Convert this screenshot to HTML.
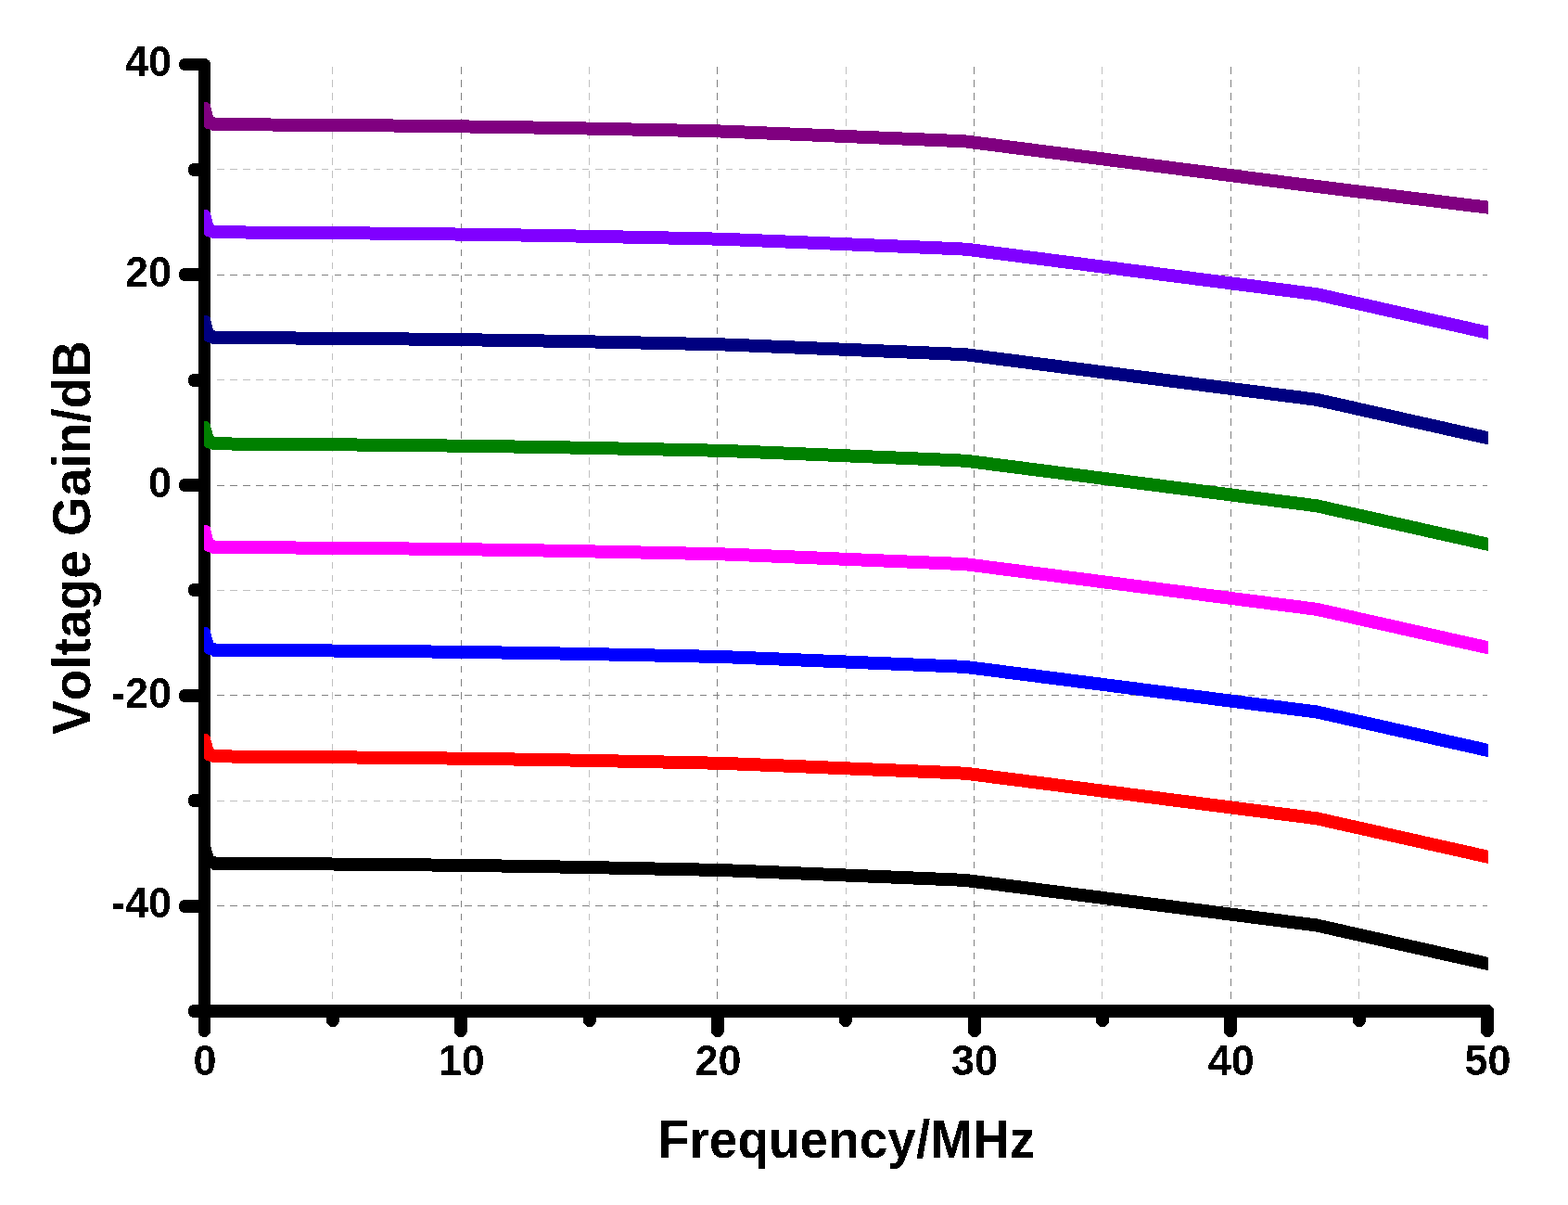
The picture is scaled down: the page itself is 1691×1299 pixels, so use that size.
<!DOCTYPE html>
<html lang="en"><head><meta charset="utf-8"><title>Voltage Gain vs Frequency</title>
<style>html,body{margin:0;padding:0;background:#fff}body{width:1691px;height:1299px;overflow:hidden}svg{display:block}text{font-family:"Liberation Sans",sans-serif;font-weight:bold;fill:#000;font-kerning:none;font-variant-ligatures:none}</style></head><body>
<svg width="1691" height="1299" viewBox="0 0 1691 1299">
<rect width="1691" height="1299" fill="#fff"/>
<defs><filter id="crisp" x="-5%" y="-20%" width="110%" height="140%" color-interpolation-filters="sRGB"><feComponentTransfer><feFuncA type="discrete" tableValues="0 1"/></feComponentTransfer></filter><clipPath id="plot"><rect x="220" y="60" width="1385" height="1030"/></clipPath></defs>
<g shape-rendering="crispEdges" fill="none" stroke-width="1">
<line x1="358.5" y1="72" x2="358.5" y2="1083" stroke="#c0c0c0" stroke-dasharray="7.5 6.543"/>
<line x1="497.5" y1="72" x2="497.5" y2="1083" stroke="#808080" stroke-dasharray="7.5 6.543"/>
<line x1="635.5" y1="72" x2="635.5" y2="1083" stroke="#c0c0c0" stroke-dasharray="7.5 6.543"/>
<line x1="773.5" y1="72" x2="773.5" y2="1083" stroke="#808080" stroke-dasharray="7.5 6.543"/>
<line x1="912.5" y1="72" x2="912.5" y2="1083" stroke="#c0c0c0" stroke-dasharray="7.5 6.543"/>
<line x1="1050.5" y1="72" x2="1050.5" y2="1083" stroke="#808080" stroke-dasharray="7.5 6.543"/>
<line x1="1188.5" y1="72" x2="1188.5" y2="1083" stroke="#c0c0c0" stroke-dasharray="7.5 6.543"/>
<line x1="1327.5" y1="72" x2="1327.5" y2="1083" stroke="#808080" stroke-dasharray="7.5 6.543"/>
<line x1="1465.5" y1="72" x2="1465.5" y2="1083" stroke="#c0c0c0" stroke-dasharray="7.5 6.543"/>
<line x1="234" y1="182.5" x2="1604" y2="182.5" stroke="#c0c0c0" stroke-dasharray="7.5 6.57"/>
<line x1="234" y1="296.5" x2="1604" y2="296.5" stroke="#808080" stroke-dasharray="7.5 6.57"/>
<line x1="234" y1="409.5" x2="1604" y2="409.5" stroke="#c0c0c0" stroke-dasharray="7.5 6.57"/>
<line x1="234" y1="523.5" x2="1604" y2="523.5" stroke="#808080" stroke-dasharray="7.5 6.57"/>
<line x1="234" y1="636.5" x2="1604" y2="636.5" stroke="#c0c0c0" stroke-dasharray="7.5 6.57"/>
<line x1="234" y1="749.5" x2="1604" y2="749.5" stroke="#808080" stroke-dasharray="7.5 6.57"/>
<line x1="234" y1="863.5" x2="1604" y2="863.5" stroke="#c0c0c0" stroke-dasharray="7.5 6.57"/>
<line x1="234" y1="976.5" x2="1604" y2="976.5" stroke="#808080" stroke-dasharray="7.5 6.57"/>
</g>
<g shape-rendering="crispEdges" fill="none" stroke="#000" stroke-linecap="round">
<line x1="220.5" y1="69.5" x2="220.5" y2="1090" stroke-width="13"/>
<line x1="220.5" y1="1090" x2="1604" y2="1090" stroke-width="14"/>
<line x1="220.5" y1="69.5" x2="199.5" y2="69.5" stroke-width="13"/>
<line x1="220.5" y1="183.0" x2="209.5" y2="183.0" stroke-width="14"/>
<line x1="220.5" y1="296.0" x2="199.5" y2="296.0" stroke-width="14"/>
<line x1="220.5" y1="410.0" x2="209.5" y2="410.0" stroke-width="14"/>
<line x1="220.5" y1="523.0" x2="199.5" y2="523.0" stroke-width="14"/>
<line x1="220.5" y1="636.0" x2="209.5" y2="636.0" stroke-width="14"/>
<line x1="220.5" y1="750.0" x2="199.5" y2="750.0" stroke-width="14"/>
<line x1="220.5" y1="863.0" x2="209.5" y2="863.0" stroke-width="14"/>
<line x1="220.5" y1="977.0" x2="199.5" y2="977.0" stroke-width="14"/>
<line x1="220.5" y1="1090.0" x2="209.5" y2="1090.0" stroke-width="14"/>
<line x1="220.5" y1="1090" x2="220.5" y2="1111.5" stroke-width="13"/>
<line x1="359.0" y1="1090" x2="359.0" y2="1100" stroke-width="14"/>
<line x1="497.0" y1="1090" x2="497.0" y2="1111" stroke-width="14"/>
<line x1="636.0" y1="1090" x2="636.0" y2="1100" stroke-width="14"/>
<line x1="774.0" y1="1090" x2="774.0" y2="1111" stroke-width="14"/>
<line x1="912.0" y1="1090" x2="912.0" y2="1100" stroke-width="14"/>
<line x1="1051.0" y1="1090" x2="1051.0" y2="1111" stroke-width="14"/>
<line x1="1189.0" y1="1090" x2="1189.0" y2="1100" stroke-width="14"/>
<line x1="1327.0" y1="1090" x2="1327.0" y2="1111" stroke-width="14"/>
<line x1="1466.0" y1="1090" x2="1466.0" y2="1100" stroke-width="14"/>
<line x1="1604.0" y1="1090" x2="1604.0" y2="1111" stroke-width="14"/>
</g>
<g shape-rendering="crispEdges" clip-path="url(#plot)" fill="none" stroke-width="14" stroke-linejoin="round">
<polygon points="220,906.4 223.5,906.4 226.5,908.9 230,922.4 233,923.4 233,937.4 231,937.4 226,936.1 222,934.9 220,932.9" fill="#000000" stroke="none"/>
<polyline points="228.0,930.5 235.0,930.6 292.0,931.0 424.0,932.0 506.0,933.0 575.0,934.0 632.0,935.0 681.0,936.0 730.0,937.0 777.0,938.0 803.0,939.0 827.0,940.0 852.0,941.0 876.0,942.0 900.0,943.0 924.0,944.0 948.0,945.0 973.0,946.0 997.0,947.0 1021.0,948.0 1042.0,949.0 1420.0,997.5 1604.0,1038.8 1612.0,1040.6" stroke="#000000"/>
<polygon points="220,791.2 223.5,791.2 226.5,793.7 230,807.2 233,808.2 233,822.2 231,822.2 226,820.9 222,819.7 220,817.7" fill="#ff0000" stroke="none"/>
<polyline points="228.0,815.3 235.0,815.4 292.0,815.8 424.0,816.8 506.0,817.8 575.0,818.8 632.0,819.8 681.0,820.8 730.0,821.8 777.0,822.8 803.0,823.8 827.0,824.8 852.0,825.8 876.0,826.8 900.0,827.8 924.0,828.8 948.0,829.8 973.0,830.8 997.0,831.8 1021.0,832.8 1042.0,833.8 1420.0,882.3 1604.0,923.6 1612.0,925.4" stroke="#ff0000"/>
<polygon points="220,676.4 223.5,676.4 226.5,678.9 230,692.4 233,693.4 233,707.4 231,707.4 226,706.1 222,704.9 220,702.9" fill="#0000ff" stroke="none"/>
<polyline points="228.0,700.5 235.0,700.6 292.0,701.0 424.0,702.0 506.0,703.0 575.0,704.0 632.0,705.0 681.0,706.0 730.0,707.0 777.0,708.0 803.0,709.0 827.0,710.0 852.0,711.0 876.0,712.0 900.0,713.0 924.0,714.0 948.0,715.0 973.0,716.0 997.0,717.0 1021.0,718.0 1042.0,719.0 1420.0,767.5 1604.0,808.8 1612.0,810.6" stroke="#0000ff"/>
<polygon points="220,565.7 223.5,565.7 226.5,568.2 230,581.7 233,582.7 233,596.7 231,596.7 226,595.4 222,594.2 220,592.2" fill="#ff00ff" stroke="none"/>
<polyline points="228.0,589.8 235.0,589.9 292.0,590.3 424.0,591.3 506.0,592.3 575.0,593.3 632.0,594.3 681.0,595.3 730.0,596.3 777.0,597.3 803.0,598.3 827.0,599.3 852.0,600.3 876.0,601.3 900.0,602.3 924.0,603.3 948.0,604.3 973.0,605.3 997.0,606.3 1021.0,607.3 1042.0,608.3 1420.0,656.8 1604.0,698.1 1612.0,699.9" stroke="#ff00ff"/>
<polygon points="220,454.2 223.5,454.2 226.5,456.7 230,470.2 233,471.2 233,485.2 231,485.2 226,483.9 222,482.7 220,480.7" fill="#008000" stroke="none"/>
<polyline points="228.0,478.3 235.0,478.4 292.0,478.8 424.0,479.8 506.0,480.8 575.0,481.8 632.0,482.8 681.0,483.8 730.0,484.8 777.0,485.8 803.0,486.8 827.0,487.8 852.0,488.8 876.0,489.8 900.0,490.8 924.0,491.8 948.0,492.8 973.0,493.8 997.0,494.8 1021.0,495.8 1042.0,496.8 1420.0,545.3 1604.0,586.6 1612.0,588.4" stroke="#008000"/>
<polygon points="220,339.7 223.5,339.7 226.5,342.2 230,355.7 233,356.7 233,370.7 231,370.7 226,369.4 222,368.2 220,366.2" fill="#000080" stroke="none"/>
<polyline points="228.0,363.8 235.0,363.9 292.0,364.3 424.0,365.3 506.0,366.3 575.0,367.3 632.0,368.3 681.0,369.3 730.0,370.3 777.0,371.3 803.0,372.3 827.0,373.3 852.0,374.3 876.0,375.3 900.0,376.3 924.0,377.3 948.0,378.3 973.0,379.3 997.0,380.3 1021.0,381.3 1042.0,382.3 1420.0,430.8 1604.0,472.1 1612.0,473.9" stroke="#000080"/>
<polygon points="220,226.1 223.5,226.1 226.5,228.6 230,242.1 233,243.1 233,257.1 231,257.1 226,255.8 222,254.6 220,252.6" fill="#8000ff" stroke="none"/>
<polyline points="228.0,250.2 235.0,250.3 292.0,250.7 424.0,251.7 506.0,252.7 575.0,253.7 632.0,254.7 681.0,255.7 730.0,256.7 777.0,257.7 803.0,258.7 827.0,259.7 852.0,260.7 876.0,261.7 900.0,262.7 924.0,263.7 948.0,264.7 973.0,265.7 997.0,266.7 1021.0,267.7 1042.0,268.7 1420.0,317.2 1604.0,358.5 1612.0,360.3" stroke="#8000ff"/>
<polygon points="220,109.9 223.5,109.9 226.5,112.4 230,125.9 233,126.9 233,140.9 231,140.9 226,139.6 222,138.4 220,136.4" fill="#800080" stroke="none"/>
<polyline points="228.0,134.0 235.0,134.1 292.0,134.5 424.0,135.5 506.0,136.5 575.0,137.5 632.0,138.5 681.0,139.5 730.0,140.5 777.0,141.5 803.0,142.5 827.0,143.5 852.0,144.5 876.0,145.5 900.0,146.5 924.0,147.5 948.0,148.5 973.0,149.5 997.0,150.5 1021.0,151.5 1042.0,152.5 1420.0,201.0 1604.0,223.6 1612.0,224.6" stroke="#800080"/>
</g>
<g font-size="45" filter="url(#crisp)">
<text transform="translate(185 82.2) scale(1 1.040)" text-anchor="end">40</text>
<text transform="translate(185 309.0) scale(1 1.040)" text-anchor="end">20</text>
<text transform="translate(185 535.8) scale(1 1.040)" text-anchor="end">0</text>
<text transform="translate(185 762.5) scale(1 1.040)" text-anchor="end">-20</text>
<text transform="translate(185 989.3) scale(1 1.040)" text-anchor="end">-40</text>
<text transform="translate(221.0 1159) scale(1 1.040)" text-anchor="middle">0</text>
<text transform="translate(497.7 1159) scale(1 1.040)" text-anchor="middle">10</text>
<text transform="translate(774.4 1159) scale(1 1.040)" text-anchor="middle">20</text>
<text transform="translate(1051.1 1159) scale(1 1.040)" text-anchor="middle">30</text>
<text transform="translate(1327.8 1159) scale(1 1.040)" text-anchor="middle">40</text>
<text transform="translate(1604.5 1159) scale(1 1.040)" text-anchor="middle">50</text>
</g>
<g font-size="55" filter="url(#crisp)">
<text transform="translate(913 1248) scale(1 1.055)" text-anchor="middle">Frequency/MHz</text>
<text transform="translate(97 579.5) rotate(-90) scale(1 1.055)" text-anchor="middle">Voltage Gain/dB</text>
</g>
</svg></body></html>
